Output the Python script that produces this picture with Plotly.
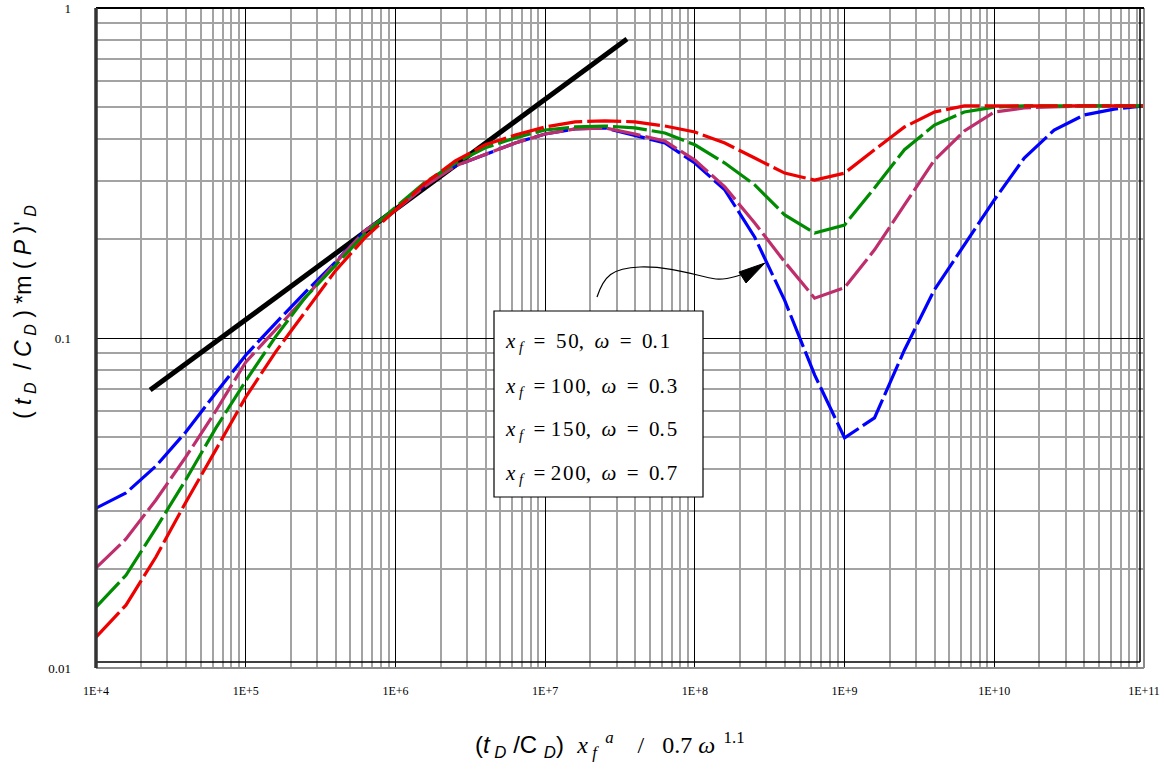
import plotly.graph_objects as go

# ---------------- data ----------------
x_log_exponents = [4.0 + 0.2 * i for i in range(36)]
x_values = [10 ** e for e in x_log_exponents]

series_names = ["x_f = 50, ω = 0.1", "x_f = 100, ω = 0.3", "x_f = 150, ω = 0.5", "x_f = 200, ω = 0.7"]

blue_y = [0.0305, 0.0339, 0.0409, 0.0519, 0.0681, 0.0887, 0.111, 0.138, 0.170, 0.212,
          0.244, 0.291, 0.332, 0.359, 0.390, 0.415, 0.430, 0.433, 0.412, 0.390,
          0.339, 0.281, 0.202, 0.130, 0.0773, 0.0498, 0.0573, 0.0920, 0.140, 0.191,
          0.262, 0.351, 0.427, 0.474, 0.494, 0.505]
magenta_y = [0.0201, 0.0246, 0.0323, 0.0436, 0.0601, 0.0845, 0.106, 0.133, 0.169, 0.212,
             0.244, 0.289, 0.332, 0.359, 0.390, 0.415, 0.430, 0.433, 0.415, 0.395,
             0.346, 0.287, 0.223, 0.170, 0.132, 0.142, 0.185, 0.253, 0.346, 0.424,
             0.484, 0.498, 0.501, 0.505, 0.505, 0.505]
green_y = [0.0153, 0.0191, 0.0265, 0.0372, 0.0533, 0.0741, 0.101, 0.133, 0.166, 0.208,
           0.249, 0.297, 0.339, 0.377, 0.404, 0.427, 0.436, 0.439, 0.433, 0.418,
           0.385, 0.339, 0.291, 0.236, 0.208, 0.220, 0.285, 0.372, 0.442, 0.484,
           0.501, 0.505, 0.505, 0.505, 0.505, 0.505]
red_y = [0.0124, 0.0155, 0.0217, 0.0318, 0.0458, 0.0662, 0.0908, 0.121, 0.160, 0.202,
         0.244, 0.295, 0.344, 0.385, 0.412, 0.436, 0.452, 0.455, 0.452, 0.439,
         0.421, 0.390, 0.351, 0.316, 0.301, 0.316, 0.372, 0.436, 0.484, 0.505,
         0.505, 0.505, 0.505, 0.505, 0.505, 0.505]

tangent_x = [2.30e4, 3.52e7]
tangent_y = [0.0696, 0.805]

x_tick_vals = [1e4, 1e5, 1e6, 1e7, 1e8, 1e9, 1e10, 1e11]
x_tick_text = ["1E+4", "1E+5", "1E+6", "1E+7", "1E+8", "1E+9", "1E+10", "1E+11"]
y_tick_vals = [0.01, 0.1, 1]
y_tick_text = ["0.01", "0.1", "1"]

x_minor_vals = [m * 10 ** k for k in range(4, 11) for m in range(2, 10)]
y_minor_vals = [m * 10 ** k for k in range(-2, 0) for m in range(2, 10)]

# ---------------- figure ----------------
W, H = 1164, 769
PL, PR, PT, PB = 96, 1144, 8, 668            # plot area in page pixels
L, T, R, B = PL, PT, W - PR, H - PB
PW, PH = PR - PL, PB - PT


def px(xpix):
    return (xpix - PL) / PW


def py(ypix):
    return 1 - (ypix - PT) / PH


fig = go.Figure()

fig.add_trace(go.Scatter(x=tangent_x, y=tangent_y, mode="lines",
                         line=dict(color="black", width=5), showlegend=False))

colors = ["#0000ff", "#bf2e6c", "#008c00", "#ee0000"]
for name, ys, c in zip(series_names, [blue_y, magenta_y, green_y, red_y], colors):
    fig.add_trace(go.Scatter(x=x_values, y=ys, mode="lines", name=name,
                             line=dict(color=c, width=3.2, dash="34px,5px"),
                             showlegend=False))

serif = "Liberation Serif, Times New Roman, serif"
sans = "Liberation Sans, Arial, sans-serif"

fig.update_layout(
    width=W, height=H,
    margin=dict(l=L, r=R, t=T, b=B, pad=0, autoexpand=False),
    paper_bgcolor="white", plot_bgcolor="white",
    xaxis=dict(type="log", range=[4, 11], tickvals=x_tick_vals, ticktext=x_tick_text,
               showgrid=True, gridcolor="black", gridwidth=1, ticks="",
               tickfont=dict(family=serif, size=12, color="black"),
               ticklabelstandoff=14, zeroline=False, showline=False, automargin=False,
               minor=dict(tickvals=x_minor_vals, showgrid=True,
                          gridcolor="#a3a3a3", gridwidth=1.5, ticks="")),
    yaxis=dict(type="log", range=[-2, 0], tickvals=y_tick_vals, ticktext=y_tick_text,
               showgrid=True, gridcolor="black", gridwidth=1, ticks="",
               tickfont=dict(family=serif, size=13, color="black"),
               ticklabelstandoff=24, zeroline=False, showline=False, automargin=False,
               minor=dict(tickvals=y_minor_vals, showgrid=True,
                          gridcolor="#a3a3a3", gridwidth=1.5, ticks="")),
)

shapes = []
# frame
shapes.append(dict(type="line", xref="paper", yref="paper", x0=0, x1=1, y0=0, y1=0,
                   line=dict(color="#8a8a8a", width=2)))
shapes.append(dict(type="line", xref="paper", yref="paper", x0=1, x1=1, y0=0, y1=1,
                   line=dict(color="#8a8a8a", width=2)))
shapes.append(dict(type="line", xref="paper", yref="paper", x0=0, x1=1, y0=1, y1=1,
                   line=dict(color="black", width=2)))
shapes.append(dict(type="line", xref="paper", yref="paper", x0=px(96), x1=px(1140),
                   y0=py(662), y1=py(662), line=dict(color="black", width=1.5)))
shapes.append(dict(type="line", xref="paper", yref="paper", x0=px(1140), x1=px(1140),
                   y0=py(662), y1=1, line=dict(color="black", width=1.5)))
shapes.append(dict(type="line", xref="paper", yref="paper", x0=0, x1=0, y0=0, y1=1,
                   line=dict(color="#333333", width=3.5)))

# legend box
shapes.append(dict(type="rect", xref="paper", yref="paper", x0=px(494), x1=px(703),
                   y0=py(497), y1=py(311), fillcolor="white",
                   line=dict(color="black", width=1.2), layer="above"))

# curved arrow
pts = [(597, 297), (604, 276), (612, 268), (640, 267), (672, 266), (700, 277), (716, 279),
       (728, 280), (735, 276), (745, 274)]
path = "M {:.5f},{:.5f} C {:.5f},{:.5f} {:.5f},{:.5f} {:.5f},{:.5f} C {:.5f},{:.5f} {:.5f},{:.5f} {:.5f},{:.5f} C {:.5f},{:.5f} {:.5f},{:.5f} {:.5f},{:.5f}".format(
    *[v for p in pts for v in (px(p[0]), py(p[1]))])
shapes.append(dict(type="path", xref="paper", yref="paper", path=path,
                   line=dict(color="black", width=1.2), layer="above"))
tri = [(739, 272), (765, 263), (746, 283)]
tpath = "M {:.5f},{:.5f} L {:.5f},{:.5f} L {:.5f},{:.5f} Z".format(
    *[v for p in tri for v in (px(p[0]), py(p[1]))])
shapes.append(dict(type="path", xref="paper", yref="paper", path=tpath,
                   fillcolor="black", line=dict(color="black", width=1), layer="above"))
fig.update_layout(shapes=shapes)

annotations = []
hs = "\u200a"
legend_texts = [
    f"<i>x</i><sub> <i>f</i></sub>  =  5{hs}0,  <i>ω</i>  =  0.{hs}1",
    f"<i>x</i><sub> <i>f</i></sub>  = 1{hs}0{hs}0,  <i>ω</i>  =  0.{hs}3",
    f"<i>x</i><sub> <i>f</i></sub>  = 1{hs}5{hs}0,  <i>ω</i>  =  0.{hs}5",
    f"<i>x</i><sub> <i>f</i></sub>  = 2{hs}0{hs}0,  <i>ω</i>  =  0.{hs}7",
]
for txt, yc in zip(legend_texts, [342, 387, 430, 474]):
    annotations.append(dict(xref="paper", yref="paper", x=px(503), y=py(yc), text=txt,
                            showarrow=False, xanchor="left", yanchor="middle",
                            font=dict(family=serif, size=21, color="black")))

# axis titles
annotations.append(dict(xref="paper", yref="paper", x=px(610), y=py(745),
                        text="(<i>t</i><sub> <i>D</i></sub> /C <sub><i>D</i></sub>)  "
                             "<span style='font-family:Liberation Serif'><i>x</i><sub> <i>f</i></sub><sup>  <i>a</i></sup>"
                             "    /   0.7 <i>ω</i><sup>  1.1</sup></span>",
                        showarrow=False, xanchor="center", yanchor="middle",
                        font=dict(family=sans, size=24, color="black")))
annotations.append(dict(xref="paper", yref="paper", x=px(24), y=py(312),
                        text="( <i>t</i><sub> <i>D</i></sub>  / <i>C</i><sub> <i>D</i></sub> ) *m ( <i>P</i> )'<sub> <i>D</i></sub>",
                        textangle=-90, showarrow=False, xanchor="center", yanchor="middle",
                        font=dict(family=sans, size=23, color="black")))
fig.update_layout(annotations=annotations)

fig.write_html("out.html", config={"displayModeBar": False},
               post_script="document.body.style.margin='0';document.body.style.overflow='hidden';")
